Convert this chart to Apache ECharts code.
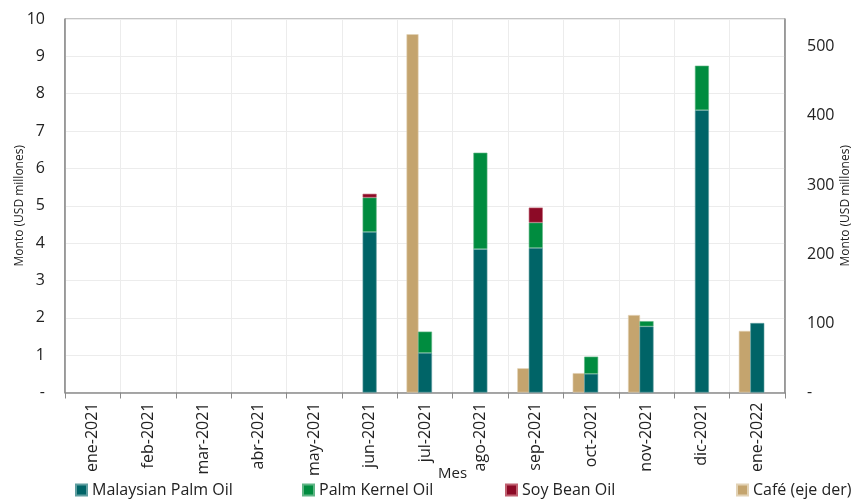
<!DOCTYPE html>
<html>
<head>
<meta charset="utf-8">
<script src="https://cdn.jsdelivr.net/npm/echarts@6/dist/echarts.min.js"></script>
<style>html,body{margin:0;padding:0;background:#fff;}#c{width:857px;height:500px;}</style>
</head>
<body>
<div id="c"></div>
<script>
const categories = ['ene-2021','feb-2021','mar-2021','abr-2021','may-2021','jun-2021','jul-2021','ago-2021','sep-2021','oct-2021','nov-2021','dic-2021','ene-2022'];
const malaysianPalmOil = [null,null,null,null,null,4.30,1.06,3.84,3.87,0.50,1.77,7.56,1.86];
const palmKernelOil    = [null,null,null,null,null,0.92,0.57,2.58,0.68,0.46,0.14,1.19,null];
const soyBeanOil       = [null,null,null,null,null,0.10,null,null,0.40,null,null,null,null];
const cafe             = [null,null,null,null,null,null,518,null,35,28,112,null,89];
const leftTicks = [0,1,2,3,4,5,6,7,8,9,10];
const rightTicks = [0,100,200,300,400,500];

const FONT = 'Open Sans';
const TXT = '#222';
const colors = {mpo:'#006467', pko:'#008C3F', sbo:'#8C0A26', cafe:'#C4A46E'};

const chart = echarts.init(document.getElementById('c'));
function legendAt(name, left) {
  return {
    data: [name], left: left, top: 481, icon: 'rect', itemWidth: 11, itemHeight: 11,
    itemGap: 0, padding: 0,
    textStyle: {fontFamily: FONT, fontSize: 16, color: TXT, lineHeight: 18},
    selectedMode: false
  };
}
chart.setOption({
  animation: false,
  textStyle: {fontFamily: FONT},
  grid: {left: 65, right: 72, top: 19, bottom: 107.5, containLabel: false, outerBoundsMode: 'none',
    show: true, borderColor: '#8a8a8a', borderWidth: 1},
  legend: [
    legendAt('Malaysian Palm Oil', 75),
    legendAt('Palm Kernel Oil', 302),
    legendAt('Soy Bean Oil', 505),
    legendAt('Café (eje der)', 736)
  ],
  graphic: [{
    type: 'text', left: 438, top: 466,
    style: {text: 'Mes', fontFamily: FONT, fontSize: 15, fill: TXT}
  }],
  xAxis: [{
    type: 'category', data: categories,
    axisLine: {lineStyle: {color: '#8a8a8a', width: 1.5}},
    axisTick: {show: true, length: 6, lineStyle: {color: '#8a8a8a'}},
    axisLabel: {rotate: 90, fontFamily: FONT, fontSize: 16, color: TXT, margin: 10},
    splitLine: {show: true, lineStyle: {color: '#ececec'}}
  }, {
    type: 'category', data: categories, show: false,
    splitLine: {show: false}
  }],
  yAxis: [
    {
      type: 'value', min: 0, max: 10, interval: 1, position: 'left',
      name: 'Monto (USD millones)', nameLocation: 'middle', nameGap: 39, nameRotate: 90,
      nameMoveOverlap: false,
      nameTextStyle: {fontFamily: FONT, fontSize: 12, color: TXT},
      axisLine: {show: true, lineStyle: {color: '#8a8a8a', width: 1.5}},
      axisTick: {show: false},
      axisLabel: {fontFamily: FONT, fontSize: 16, color: TXT, margin: 20,
        formatter: v => leftTicks.includes(v) ? (v === 0 ? '-' : String(v)) : ''},
      splitLine: {show: true, lineStyle: {color: '#ececec'}}
    },
    {
      type: 'value', min: 0, max: 540, interval: 100, position: 'right',
      name: 'Monto (USD millones)', nameLocation: 'middle', nameGap: 55, nameRotate: 90,
      nameMoveOverlap: false,
      nameTextStyle: {fontFamily: FONT, fontSize: 12, color: TXT},
      axisLine: {show: true, lineStyle: {color: '#8a8a8a', width: 1.5}},
      axisTick: {show: false},
      axisLabel: {fontFamily: FONT, fontSize: 16, color: TXT, margin: 22, showMaxLabel: false,
        formatter: v => rightTicks.includes(v) ? (v === 0 ? '-' : String(v)) : ''},
      splitLine: {show: false}
    }
  ],
  series: [
    {name: 'Café (eje der)', type: 'bar', xAxisIndex: 1, yAxisIndex: 1, data: cafe, barWidth: 12, barGap: '0%',
      itemStyle: {color: colors.cafe, borderColor: '#e2d2b5', borderWidth: 0.6}},
    {name: 'spacer', type: 'bar', xAxisIndex: 1, yAxisIndex: 1, data: categories.map(() => null), barWidth: 25, barGap: '0%'},
    {name: 'Malaysian Palm Oil', type: 'bar', stack: 'oil', xAxisIndex: 0, yAxisIndex: 0, data: malaysianPalmOil, barWidth: 14,
      itemStyle: {color: colors.mpo, borderColor: '#5f9ea0', borderWidth: 0.6}},
    {name: 'Palm Kernel Oil', type: 'bar', stack: 'oil', xAxisIndex: 0, yAxisIndex: 0, data: palmKernelOil, barWidth: 14,
      itemStyle: {color: colors.pko, borderColor: '#5fb585', borderWidth: 0.6}},
    {name: 'Soy Bean Oil', type: 'bar', stack: 'oil', xAxisIndex: 0, yAxisIndex: 0, data: soyBeanOil, barWidth: 14,
      itemStyle: {color: colors.sbo, borderColor: '#c06070', borderWidth: 0.6}}
  ]
});
</script>
</body>
</html>
